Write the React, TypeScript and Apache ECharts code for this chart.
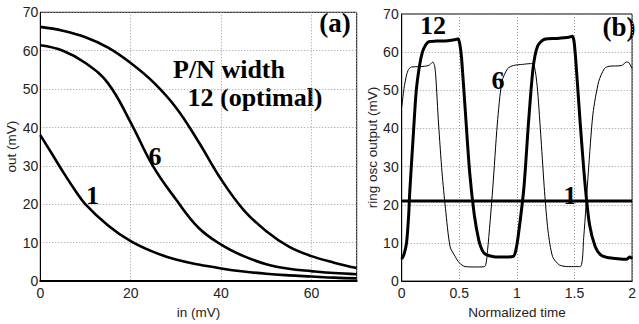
import React, { useEffect, useRef } from "react";
import * as echarts from "echarts";

// Panel (a): transfer curves, out (mV) vs in (mV)
const inA12 = [0, 5, 10, 15, 20, 25, 30, 35, 40, 45, 50, 55, 60, 65, 70];
const outA12 = [66.2, 65.2, 63.5, 60.8, 56.8, 51.8, 45.2, 36.3, 26.5, 18.5, 13.0, 9.0, 6.5, 4.8, 3.4];
const inA6 = [0, 5, 10, 15, 20, 25, 30, 35, 40, 45, 50, 55, 60, 65, 70];
const outA6 = [61.4, 60.0, 56.8, 51.5, 41.3, 29.8, 21.3, 13.9, 9.5, 6.5, 4.4, 3.2, 2.6, 2.1, 1.8];
const inA1 = [0, 2.5, 5, 7.5, 10, 15, 20, 25, 30, 35, 40, 45, 50, 55, 60, 65, 70];
const outA1 = [38.0, 33.3, 28.5, 24.0, 20.0, 14.5, 10.4, 7.6, 5.6, 4.3, 3.3, 2.5, 1.9, 1.5, 1.2, 0.9, 0.7];

// Panel (b): ring oscillator output vs normalized time
const tB12 = [0, 0.02, 0.042, 0.06, 0.07, 0.098, 0.126, 0.155, 0.18, 0.21, 0.24, 0.3, 0.4, 0.47, 0.49, 0.505, 0.52, 0.55, 0.59, 0.63, 0.67, 0.7, 0.73, 0.8, 0.9, 0.97, 0.99, 1.01, 1.06, 1.1, 1.14, 1.18, 1.24, 1.35, 1.45, 1.48, 1.495, 1.51, 1.55, 1.59, 1.63, 1.68, 1.73, 1.8, 1.86, 1.95, 1.98, 2.0];
const vB12 = [5.8, 7, 10, 17, 23.4, 37, 49.8, 56.5, 60, 62, 62.8, 62.9, 63.0, 63.3, 63.5, 62, 58.3, 45.5, 28.5, 17.4, 10.6, 8.0, 7.0, 6.4, 6.3, 6.5, 8, 11.5, 24.2, 41.2, 55.7, 61.6, 63.4, 63.6, 63.9, 64.2, 63, 58.3, 41.2, 25.9, 14.9, 9, 6.8, 6.1, 5.9, 5.7, 6.3, 5.9];
const tB6 = [0, 0.02, 0.042, 0.06, 0.084, 0.15, 0.2, 0.24, 0.27, 0.285, 0.295, 0.32, 0.35, 0.38, 0.42, 0.465, 0.5, 0.55, 0.65, 0.72, 0.745, 0.79, 0.83, 0.87, 0.92, 0.97, 1.05, 1.12, 1.14, 1.16, 1.18, 1.21, 1.24, 1.27, 1.31, 1.37, 1.45, 1.55, 1.58, 1.62, 1.66, 1.71, 1.76, 1.8, 1.91, 1.95, 1.97, 2.0];
const vB6 = [45.5, 50.5, 54, 55.5, 56.1, 56.2, 56.3, 56.6, 57.4, 56.5, 54, 41.2, 28.5, 19, 9, 6.4, 4.8, 3.8, 3.7, 3.8, 8, 24.2, 41.2, 52.3, 55.7, 56.5, 56.8, 57, 57, 55, 49.8, 37, 23.4, 13.2, 6.4, 4.2, 3.8, 3.8, 11.5, 28.5, 43.8, 52.3, 55.7, 56.3, 56.5, 57.4, 57.3, 55.7];
const tB1 = [0, 2];
const vB1 = [21, 21];

const zip = (xs: number[], ys: number[]) => xs.map((x, i) => [x, ys[i]]);

const sansFont = "Liberation Sans";
const serifFont = "Liberation Serif";

export default function App() {
  const ref = useRef<HTMLDivElement>(null);
  useEffect(() => {
    if (!ref.current) return;
    const chart = echarts.init(ref.current, null, { renderer: "svg" });
    const gridLine = { show: true, lineStyle: { color: "#9a9a9a", type: [1, 2] as any, width: 1 } };
    const axisLabel = { color: "#222", fontFamily: sansFont, fontSize: 14 };
    const nameStyle = { color: "#222", fontFamily: sansFont, fontSize: 13.5 };
    const annot = (text: string, x: number, y: number, size: number) => ({
      type: "text",
      x,
      y,
      style: {
        text,
        font: `bold ${size}px "${serifFont}"`,
        fill: "#000",
        align: "center",
        verticalAlign: "middle",
      },
    });
    chart.setOption({
      animation: false,
      grid: [
        { left: 40.3, top: 12.3, width: 316.4, height: 278.4, show: true, borderColor: "#000", borderWidth: 1, backgroundColor: "transparent" },
        { left: 401.7, top: 14, width: 235.6, height: 274.3, show: true, borderColor: "#000", borderWidth: 1, backgroundColor: "transparent" },
      ],
      xAxis: [
        {
          gridIndex: 0, type: "value", min: 0, max: 70, interval: 20,
          name: "in (mV)", nameLocation: "middle", nameGap: 18, nameTextStyle: nameStyle,
          axisLine: { show: true, lineStyle: { color: "#000", width: 2 } },
          axisTick: { show: false },
          axisLabel: { ...axisLabel, margin: 5, showMaxLabel: false },
          splitLine: gridLine,
        },
        {
          gridIndex: 1, type: "value", min: 0, max: 2, interval: 0.5,
          name: "Normalized time", nameLocation: "middle", nameGap: 18, nameTextStyle: nameStyle,
          axisLine: { show: true, lineStyle: { color: "#000", width: 1 } },
          axisTick: { show: false },
          axisLabel: { ...axisLabel, margin: 5 },
          splitLine: gridLine,
        },
      ],
      yAxis: [
        {
          gridIndex: 0, type: "value", min: 0, max: 70, interval: 10,
          name: "out (mV)", nameLocation: "middle", nameGap: 20, nameTextStyle: nameStyle,
          axisLine: { show: true, lineStyle: { color: "#000", width: 1 } },
          axisTick: { show: false },
          axisLabel: { ...axisLabel, margin: 2 },
          splitLine: gridLine,
        },
        {
          gridIndex: 1, type: "value", min: 0, max: 70, interval: 10,
          name: "ring osc output (mV)", nameLocation: "middle", nameGap: 14, nameTextStyle: nameStyle,
          axisLine: { show: true, lineStyle: { color: "#000", width: 1 } },
          axisTick: { show: false },
          axisLabel: { ...axisLabel, margin: 3 },
          splitLine: gridLine,
        },
      ],
      series: [
        { type: "line", xAxisIndex: 0, yAxisIndex: 0, data: zip(inA12, outA12), smooth: 0.4, showSymbol: false, lineStyle: { color: "#000", width: 2.6 } },
        { type: "line", xAxisIndex: 0, yAxisIndex: 0, data: zip(inA6, outA6), smooth: 0.4, showSymbol: false, lineStyle: { color: "#000", width: 2.6 } },
        { type: "line", xAxisIndex: 0, yAxisIndex: 0, data: zip(inA1, outA1), smooth: 0.4, showSymbol: false, lineStyle: { color: "#000", width: 2.6 } },
        { type: "line", xAxisIndex: 1, yAxisIndex: 1, data: zip(tB6, vB6), smooth: 0.25, showSymbol: false, lineStyle: { color: "#000", width: 1 } },
        { type: "line", xAxisIndex: 1, yAxisIndex: 1, data: zip(tB12, vB12), smooth: 0.25, showSymbol: false, lineStyle: { color: "#000", width: 3 } },
        { type: "line", xAxisIndex: 1, yAxisIndex: 1, data: zip(tB1, vB1), showSymbol: false, lineStyle: { color: "#000", width: 3 } },
      ],
      graphic: [
        annot("P/N width", 229, 69, 26),
        annot("12 (optimal)", 255, 97, 26),
        annot("6", 155, 156, 26),
        annot("1", 92.5, 195, 26),
        annot("(a)", 335, 23, 27),
        annot("(b)", 619, 27, 27),
        annot("12", 433, 25, 26),
        annot("6", 498, 80, 26),
        annot("1", 570, 195, 26),
      ],
    });
    return () => chart.dispose();
  }, []);
  return <div ref={ref} style={{ position: "absolute", left: 0, top: 0, width: 639, height: 324 }} />;
}
